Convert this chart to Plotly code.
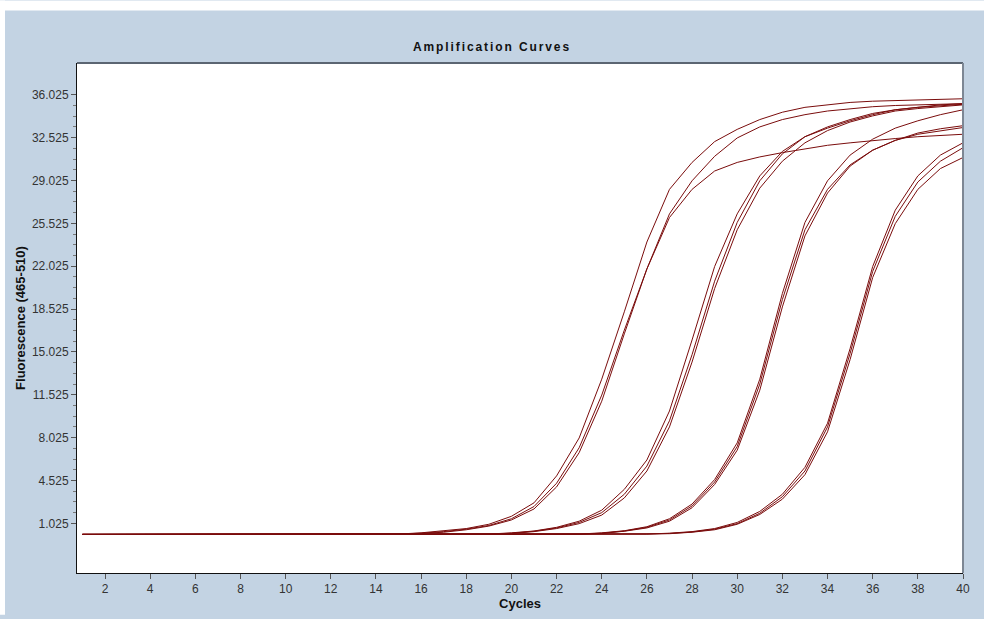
import plotly.graph_objects as go

cycles = list(range(1, 41))

# Fluorescence (465-510) readings per cycle
A1 = [0.12, 0.12, 0.12, 0.12, 0.12, 0.12, 0.12, 0.12, 0.12, 0.12, 0.12, 0.12, 0.12, 0.12,
      0.15, 0.25, 0.4, 0.6, 0.95, 1.6, 2.7, 4.9, 8.0, 12.8, 18.3, 24.0, 28.3, 30.5, 32.2, 33.2,
      34.0, 34.6, 35.0, 35.2, 35.4, 35.5, 35.55, 35.6, 35.65, 35.7]
A2 = [0.12, 0.12, 0.12, 0.12, 0.12, 0.12, 0.12, 0.12, 0.12, 0.12, 0.12, 0.12, 0.12, 0.12,
      0.15, 0.22, 0.35, 0.55, 0.85, 1.4, 2.4, 4.3, 7.2, 11.5, 16.8, 21.8, 26.3, 29.0, 31.0, 32.5,
      33.4, 34.0, 34.4, 34.7, 34.9, 35.05, 35.15, 35.2, 35.25, 35.3]
A3 = [0.12, 0.12, 0.12, 0.12, 0.12, 0.12, 0.12, 0.12, 0.12, 0.12, 0.12, 0.12, 0.12, 0.12,
      0.15, 0.2, 0.3, 0.5, 0.8, 1.3, 2.2, 4.0, 6.8, 11.0, 16.5, 21.8, 26.0, 28.3, 29.8, 30.5,
      30.95, 31.3, 31.6, 31.9, 32.1, 32.3, 32.45, 32.6, 32.7, 32.8]
B1 = [0.12, 0.12, 0.12, 0.12, 0.12, 0.12, 0.12, 0.12, 0.12, 0.12, 0.12, 0.12, 0.12, 0.12,
      0.12, 0.12, 0.12, 0.12, 0.15, 0.25, 0.4, 0.7, 1.2, 2.1, 3.8, 6.2, 10.2, 16.0, 22.0, 26.3,
      29.4, 31.4, 32.6, 33.3, 33.9, 34.4, 34.8, 35.0, 35.2, 35.3]
B2 = [0.12, 0.12, 0.12, 0.12, 0.12, 0.12, 0.12, 0.12, 0.12, 0.12, 0.12, 0.12, 0.12, 0.12,
      0.12, 0.12, 0.12, 0.12, 0.14, 0.22, 0.38, 0.65, 1.1, 1.9, 3.4, 5.7, 9.4, 14.8, 20.8, 25.6,
      29.0, 31.2, 32.6, 33.4, 34.0, 34.5, 34.8, 35.0, 35.15, 35.25]
B3 = [0.12, 0.12, 0.12, 0.12, 0.12, 0.12, 0.12, 0.12, 0.12, 0.12, 0.12, 0.12, 0.12, 0.12,
      0.12, 0.12, 0.12, 0.12, 0.14, 0.2, 0.35, 0.6, 1.0, 1.7, 3.1, 5.3, 8.9, 14.2, 20.2, 25.0,
      28.4, 30.6, 32.1, 33.1, 33.8, 34.3, 34.7, 34.9, 35.05, 35.2]
C1 = [0.12, 0.12, 0.12, 0.12, 0.12, 0.12, 0.12, 0.12, 0.12, 0.12, 0.12, 0.12, 0.12, 0.12,
      0.12, 0.12, 0.12, 0.12, 0.12, 0.12, 0.12, 0.12, 0.15, 0.25, 0.42, 0.75, 1.4, 2.6, 4.6, 7.6,
      12.8, 19.8, 25.6, 29.0, 31.1, 32.4, 33.3, 33.9, 34.4, 34.8]
C2 = [0.12, 0.12, 0.12, 0.12, 0.12, 0.12, 0.12, 0.12, 0.12, 0.12, 0.12, 0.12, 0.12, 0.12,
      0.12, 0.12, 0.12, 0.12, 0.12, 0.12, 0.12, 0.12, 0.14, 0.22, 0.4, 0.7, 1.3, 2.45, 4.4, 7.3,
      12.4, 19.3, 25.0, 28.3, 30.3, 31.5, 32.3, 32.9, 33.25, 33.5]
C3 = [0.12, 0.12, 0.12, 0.12, 0.12, 0.12, 0.12, 0.12, 0.12, 0.12, 0.12, 0.12, 0.12, 0.12,
      0.12, 0.12, 0.12, 0.12, 0.12, 0.12, 0.12, 0.12, 0.14, 0.2, 0.38, 0.65, 1.2, 2.3, 4.2, 7.0,
      11.9, 18.7, 24.5, 28.0, 30.2, 31.5, 32.3, 32.8, 33.1, 33.35]
D1 = [0.12, 0.12, 0.12, 0.12, 0.12, 0.12, 0.12, 0.12, 0.12, 0.12, 0.12, 0.12, 0.12, 0.12,
      0.12, 0.12, 0.12, 0.12, 0.12, 0.12, 0.12, 0.12, 0.12, 0.12, 0.12, 0.15, 0.22, 0.35, 0.6, 1.1,
      2.0, 3.4, 5.6, 9.2, 15.3, 22.0, 26.6, 29.4, 31.1, 32.1]
D2 = [0.12, 0.12, 0.12, 0.12, 0.12, 0.12, 0.12, 0.12, 0.12, 0.12, 0.12, 0.12, 0.12, 0.12,
      0.12, 0.12, 0.12, 0.12, 0.12, 0.12, 0.12, 0.12, 0.12, 0.12, 0.12, 0.14, 0.2, 0.32, 0.55, 1.0,
      1.85, 3.2, 5.3, 8.9, 14.9, 21.6, 26.1, 28.9, 30.6, 31.7]
D3 = [0.12, 0.12, 0.12, 0.12, 0.12, 0.12, 0.12, 0.12, 0.12, 0.12, 0.12, 0.12, 0.12, 0.12,
      0.12, 0.12, 0.12, 0.12, 0.12, 0.12, 0.12, 0.12, 0.12, 0.12, 0.12, 0.13, 0.18, 0.3, 0.5, 0.95,
      1.75, 3.0, 5.0, 8.5, 14.4, 21.1, 25.5, 28.3, 30.0, 30.9]

series = [A1, A2, A3, B1, B2, B3, C1, C2, C3, D1, D2, D3]

x_ticks = list(range(2, 41, 2))
y_ticks = [1.025, 4.525, 8.025, 11.525, 15.025, 18.525, 22.025, 25.525, 29.025, 32.525, 36.025]
y_tick_text = ["1.025", "4.525", "8.025", "11.525", "15.025", "18.525", "22.025",
               "25.525", "29.025", "32.525", "36.025"]

LINE = "#7a0c0c"
BLUE = "#c3d3e3"

fig = go.Figure()
for s in series:
    fig.add_trace(go.Scatter(x=cycles, y=s, mode="lines",
                             line=dict(color=LINE, width=1), showlegend=False,
                             hoverinfo="skip"))

minor_vals = []
for i in range(len(y_ticks) - 1):
    for k in (1, 2, 3):
        minor_vals.append(y_ticks[i] + k * 0.875)

fig.update_layout(
    width=984, height=619,
    margin=dict(l=77, r=21, t=63, b=42, pad=0),
    paper_bgcolor=BLUE, plot_bgcolor="white",
    title=dict(text='<span style="letter-spacing:1.9px">Amplification Curves</span>',
               x=0.5, xref="container", xanchor="center",
               y=1 - 47 / 619, yref="container", yanchor="middle",
               font=dict(family="Liberation Sans, Arial, sans-serif", size=12,
                         color="#111111", weight="bold")),
    font=dict(family="Liberation Sans, Arial, sans-serif", size=12, color="#333333"),
    xaxis=dict(range=[0.76, 40.0], tickvals=x_ticks, ticktext=[str(v) for v in x_ticks],
               ticks="outside", ticklen=5, tickcolor="#555555", showgrid=False,
               zeroline=False, showline=True, linecolor="#111111", linewidth=1,
               title=dict(text="Cycles", standoff=1,
                          font=dict(size=13, color="#111111", weight="bold")),
               tickfont=dict(size=12, color="#333333")),
    yaxis=dict(range=[-3.03, 38.62], tickvals=y_ticks, ticktext=y_tick_text,
               ticks="outside", ticklen=5, tickcolor="#555555", showgrid=False,
               zeroline=False, showline=True, linecolor="#111111", linewidth=1,
               minor=dict(tickvals=minor_vals, ticks="outside", ticklen=3,
                          tickcolor="#777777", showgrid=False),
               title=dict(text="Fluorescence (465-510)", standoff=3,
                          font=dict(size=13, color="#111111", weight="bold")),
               tickfont=dict(size=12, color="#333333")),
    shapes=[
        dict(type="line", xref="paper", yref="paper", x0=0, x1=1, y0=1, y1=1,
             line=dict(color="#5b6572", width=2), layer="above"),
        dict(type="line", xref="paper", yref="paper", x0=1, x1=1, y0=0, y1=1,
             line=dict(color="#7d8794", width=2), layer="above"),
        dict(type="rect", xref="paper", yref="paper", x0=-77 / 886, x1=(984 - 77) / 886,
             y0=1 + 53 / 514, y1=1 + 63 / 514, line=dict(width=0), fillcolor="white",
             layer="below"),
        dict(type="rect", xref="paper", yref="paper", x0=-77 / 886, x1=-72 / 886,
             y0=1 - 556 / 514, y1=1 + 63 / 514, line=dict(width=0), fillcolor="white",
             layer="below"),
    ],
)

fig.write_html("out.html")
